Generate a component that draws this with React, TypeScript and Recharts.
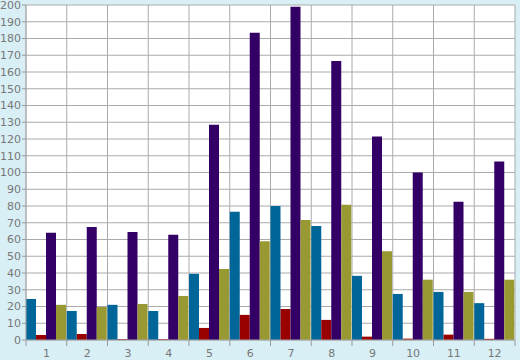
import React from 'react';
import { BarChart, Bar, XAxis, YAxis, CartesianGrid } from 'recharts';

const categories = ['1', '2', '3', '4', '5', '6', '7', '8', '9', '10', '11', '12'];
const seriesBlue = [24.5, 17.3, 21, 17.3, 39.5, 76.5, 80, 68, 38.3, 27.5, 28.7, 22];
const seriesRed = [3, 3.6, 0.5, 0.5, 7.2, 15, 18.5, 12, 2, 0.8, 3.2, 0.7];
const seriesPurple = [64, 67.5, 64.5, 62.8, 128.5, 183.5, 199, 166.5, 121.5, 100, 82.5, 106.5];
const seriesOlive = [21, 19.7, 21.5, 26.3, 42.4, 59, 71.7, 80.7, 53, 36, 28.7, 36];
const yTicks = Array.from({ length: 21 }, (_, i) => i * 10);

const data = categories.map((c, i) => ({
  name: c,
  a: seriesBlue[i],
  b: seriesRed[i],
  c: seriesPurple[i],
  d: seriesOlive[i],
}));

const W = 520;
const H = 360;
const M = { top: 5, right: 5, left: 4, bottom: 0 };
const YW = 22;
const XH = 20;

const XTick = (props: any) => {
  const { x, y, payload, index } = props;
  const plotW = W - M.left - YW - M.right;
  const half = plotW / categories.length / 2;
  return (
    <g>
      <line x1={x - half} x2={x - half} y1={y} y2={y + 6} stroke="#999" />
      {index === categories.length - 1 && (
        <line x1={x + half} x2={x + half} y1={y} y2={y + 6} stroke="#999" />
      )}
      <text x={x} y={y + 17} textAnchor="middle" fill="#777" fontSize={11} fontFamily="DejaVu Sans">
        {payload.value}
      </text>
    </g>
  );
};

export default function App() {
  return (
    <div style={{ position: 'absolute', left: 0, top: 0, width: W, height: H, background: '#d9eff6' }}>
      <BarChart width={W} height={H} data={data} margin={M} barCategoryGap={0} barGap={0}>
        <CartesianGrid
          fill="#ffffff"
          stroke="#aaaaaa"
          strokeWidth={1}
          verticalCoordinatesGenerator={({ offset }: any) =>
            Array.from({ length: categories.length + 1 }, (_, i) => offset.left + (i * offset.width) / categories.length)
          }
        />
        <XAxis
          dataKey="name"
          height={XH}
          tickLine={false}
          tickSize={0}
          tickMargin={0}
          axisLine={{ stroke: '#aaaaaa' }}
          tick={<XTick />}
          interval={0}
        />
        <YAxis
          width={YW}
          domain={[0, 200]}
          ticks={yTicks}
          interval={0}
          tickSize={4}
          tickMargin={1}
          tickLine={{ stroke: '#999' }}
          axisLine={{ stroke: '#aaaaaa' }}
          tick={{ fill: '#777', fontSize: 11, fontFamily: 'DejaVu Sans' }}
        />
        <Bar dataKey="a" fill="#006699" isAnimationActive={false} />
        <Bar dataKey="b" fill="#990000" isAnimationActive={false} />
        <Bar dataKey="c" fill="#330066" isAnimationActive={false} />
        <Bar dataKey="d" fill="#999933" isAnimationActive={false} />
      </BarChart>
    </div>
  );
}
